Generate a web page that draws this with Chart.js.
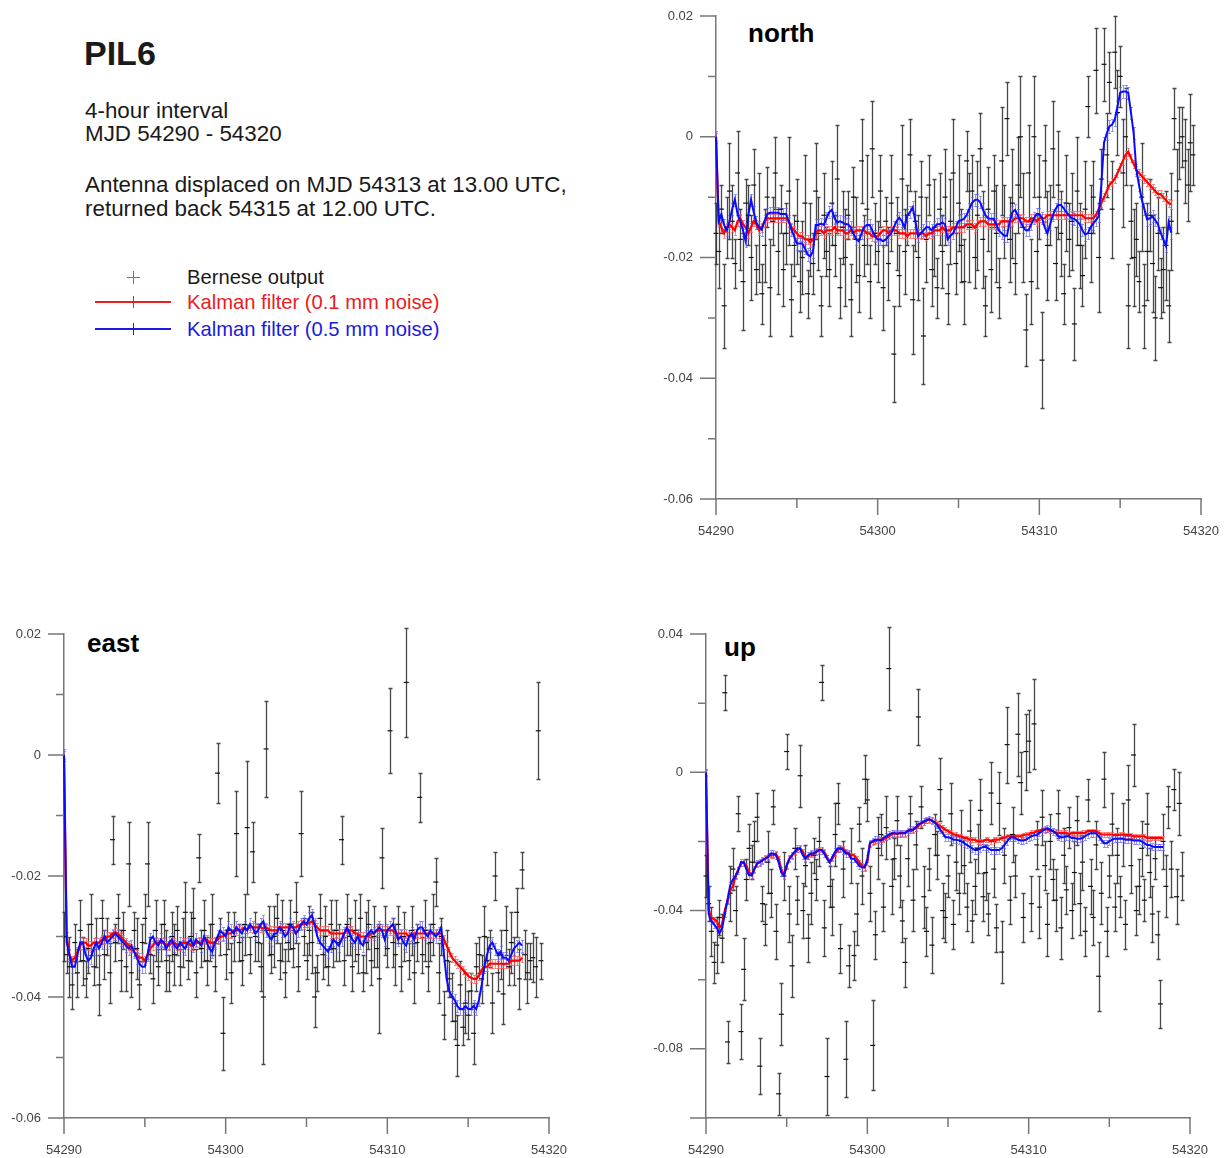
<!DOCTYPE html>
<html>
<head>
<meta charset="utf-8">
<script src="https://cdn.jsdelivr.net/npm/chart.js@4.4.0/dist/chart.umd.min.js"></script>
<style>
  body { margin: 0; background: #fff; font-family: "Liberation Sans", Arial, sans-serif; }
  #page { position: relative; width: 1227px; height: 1158px; overflow: hidden; }
  canvas { position: absolute; }
  .t { position: absolute; white-space: nowrap; color: #1a1a1a; }
  .mk { position: absolute; }
</style>
</head>
<body>
<div id="page">
  <div class="t" style="left:84px;top:36px;font:bold 34px/34px 'Liberation Sans',Arial;">PIL6</div>
  <div class="t" style="left:85px;top:100px;font:22.4px/22px 'Liberation Sans',Arial;">4-hour interval</div>
  <div class="t" style="left:85px;top:123px;font:22.4px/22px 'Liberation Sans',Arial;">MJD 54290 - 54320</div>
  <div class="t" style="left:85px;top:174px;font:22.4px/22px 'Liberation Sans',Arial;">Antenna displaced on MJD 54313 at 13.00 UTC,</div>
  <div class="t" style="left:85px;top:198px;font:22.4px/22px 'Liberation Sans',Arial;">returned back 54315 at 12.00 UTC.</div>

  <!-- legend -->
  <div class="mk" style="left:127px;top:277px;width:13px;height:1px;background:#777;"></div>
  <div class="mk" style="left:133px;top:271px;width:1px;height:13px;background:#777;"></div>
  <div class="t" style="left:187px;top:267px;font:20.2px/20px 'Liberation Sans',Arial;">Bernese output</div>
  <div class="mk" style="left:95px;top:301px;width:76px;height:2px;background:#e82020;"></div>
  <div class="mk" style="left:133px;top:296px;width:1px;height:12px;background:#e82020;"></div>
  <div class="t" style="left:187px;top:292px;font:20.2px/20px 'Liberation Sans',Arial;color:#e82020;">Kalman filter (0.1 mm noise)</div>
  <div class="mk" style="left:95px;top:328px;width:76px;height:2px;background:#1a1ae0;"></div>
  <div class="mk" style="left:133px;top:323px;width:1px;height:12px;background:#1a1ae0;"></div>
  <div class="t" style="left:187px;top:319px;font:20.2px/20px 'Liberation Sans',Arial;color:#1a1ae0;">Kalman filter (0.5 mm noise)</div>

  <div class="t" style="left:748px;top:20px;font:bold 26px/26px 'Liberation Sans',Arial;color:#000;">north</div>
  <div class="t" style="left:87px;top:630px;font:bold 26px/26px 'Liberation Sans',Arial;color:#000;">east</div>
  <div class="t" style="left:724px;top:634px;font:bold 26px/26px 'Liberation Sans',Arial;color:#000;">up</div>

  <canvas id="north" width="587" height="560" style="left:640px;top:0px;"></canvas>
  <canvas id="east" width="600" height="558" style="left:0px;top:600px;"></canvas>
  <canvas id="up" width="587" height="558" style="left:640px;top:600px;"></canvas>
</div>

<script>
// sampling: 4-hour interval starting at MJD 54290 (values below in mm)
const MJD0 = 54290;
const STEP = 1 / 6;

const xTicks = [54290, 54300, 54310, 54320];
const xMinor = [54295, 54305, 54315];
const yTicksNE = [0.02, 0, -0.02, -0.04, -0.06];
const yMinorNE = [0.01, -0.01, -0.03, -0.05];
const yTicksUp = [0.04, 0, -0.04, -0.08];
const yMajorUp = [0.04, 0, -0.04, -0.08, -0.1];
const yMinorUp = [0.02, -0.02, -0.06];

// ---------- north ----------
const northBernese = [
  -16, -19, -12, -28, -15, -9,   -14, -21, -6, -17, -24, -11,
  -13, -20, -8, -22, -15, -26,   -18, -10, -25, -14, -6, -19,
  -12, -22, -16, -9, -27, -18,   -14, -24, -20, -11, -26, -17,
  -21, -9, -16, -28, -13, -19,   -22, -11, -18, -7, -25, -15,
  -20, -13, -27, -10, -17, -23,  -4, -18, -12, -24, -2, -16,
  -19, -9, -25, -14, -21, -11,   -36, -16, -23, -7, -19, -13,
  -3, -27, -14, -20, -10, -33,   -17, -8, -22, -15, -25, -12,
  -19, -10, -26, -14, -6, -21,   -11, -18, -24, -4, -15, -9,
  -20, -13, -2, -17, -28, -12,   -22, -9, -16, -25, -4, -14,
  3, -17, -11, -21, -8, 0,       -15, -32, -6, -24, 0, -19,
  -10, -37, -4, -18, -13, -2,    -21, -8, -16, -26, -11, -17,
  -14, -31, -9, -18, -23, -12,   5, -16, -10, 11, -20, -7,
  12, -3, 9, -12, 14, 4,         10, -6, 0, -28, -14, -20,
  -17, -24, -10, -28, -19, -13,  -21, -30, -16, -25, -22, -18,
  -28, -14, 3, -9, -1, 0,        -4, -8, -1, -3
];
const northErr = [
  5, 6, 4, 7, 5, 8,  6, 4, 7, 5, 8, 4,  5, 7, 6, 4, 9, 5,  6, 5, 8, 4, 6, 7,
  4, 6, 5, 9, 6, 5,  7, 5, 6, 8, 4, 6,  5, 8, 6, 5, 7, 4,  6, 7, 5, 9, 5, 6,
  8, 4, 6, 5, 7, 6,  7, 5, 9, 6, 8, 5,  5, 6, 7, 4, 6, 8,  8, 6, 5, 9, 7, 5,
  6, 9, 5, 7, 6, 8,  7, 5, 6, 8, 5, 6,  6, 8, 5, 7, 9, 5,  8, 6, 7, 5, 9, 6,
  5, 9, 6, 8, 5, 7,  7, 6, 8, 5, 9, 6,  6, 7, 9, 5, 8, 10, 9, 6, 8, 7, 10, 6,
  7, 8, 6, 9, 5, 8,  6, 9, 7, 5, 8, 6,  8, 6, 9, 7, 5, 8,  5, 8, 6, 7, 9, 5,
  6, 7, 5, 8, 6, 7,  5, 9, 8, 7, 6, 8,  6, 5, 9, 7, 8, 6,  8, 7, 6, 5, 7, 9,
  6, 8, 5, 7, 6, 5,  7, 6, 8, 5
];
const northKalman01 = [
  0,
  -14, -15, -16, -15, -14.5, -15,      -15.5, -14, -13.5, -14.5, -15, -16,
  -15, -14, -14.5, -15.5, -15, -14,    -13.5, -13.5, -13.5, -13.5, -13.5, -13.5,
  -13.5, -13.5, -14, -15, -15.5, -16,  -16.5, -16.5, -17, -17, -17.5, -17,
  -16, -15.5, -15.5, -16, -15.5, -15.5, -15.5, -15, -15.5, -15.5, -15.5, -16,
  -16, -15.5, -16, -15.5, -15.5, -15.5, -15.5, -16, -16, -16.5, -16.5, -16.5,
  -16, -15.5, -15.5, -16, -15.5, -15.5, -15.5, -16, -16, -16, -16.5, -16,
  -16, -16, -16, -16, -16, -16.5,      -16, -16, -15.5, -15.5, -15.5, -15,
  -15.5, -15.5, -15.5, -15, -15, -15,  -15, -15, -14.5, -14.5, -14.5, -15,
  -14.5, -14, -14, -14, -14.5, -14.5,  -14.5, -14.5, -14.5, -14, -14, -14,
  -14, -14, -13.5, -13.5, -13.5, -13.5, -14, -14, -13.5, -13.5, -14, -13.5,
  -13.5, -13.5, -13, -13, -13, -13,    -13, -13, -13, -13, -13, -13,
  -13, -13, -13, -13, -13.5, -13.5,    -13.5, -13.5, -13, -12, -11, -10,
  -9, -8, -7.5, -7, -6, -5,            -4, -3, -2.5, -3.5, -4.5, -5.5,
  -6, -6.5, -7, -7.5, -8, -8.5,        -9, -9.5, -9.5, -10, -10.5, -11,
  -11.2
];
const northKalman05 = [
  0,
  -14, -12.8, -14.6, -15.5, -14, -12,   -10.4, -12.8, -14, -15.5, -17.3, -13,
  -10.4, -12.5, -14.2, -15, -15.4, -14, -12.8, -12.6, -12.6, -12.6, -12.6, -12.8,
  -12.8, -12.8, -14, -15.4, -16.5, -17.7, -17.7, -17.7, -18.5, -19.5, -19.8, -19,
  -14.6, -14.6, -14.4, -14.6, -13.5, -12.5, -12.1, -13.5, -14.2, -14, -14.2, -14.5,
  -14.5, -15, -16, -17, -17.3, -16,     -15, -14.6, -14.6, -15.5, -16.5, -17,
  -17, -17.3, -17, -16.5, -16, -15,     -14, -13.4, -14, -15, -13, -12.5,
  -11.7, -14, -16.5, -16, -15.5, -15,   -15, -15.5, -15, -14.5, -14.5, -14.2,
  -14.5, -17, -16.4, -16, -15, -14,     -13.8, -13.6, -13, -12, -11, -10.5,
  -10.4, -10.8, -12, -13, -13.5, -13.6, -13.6, -14.5, -15.5, -16, -16.4, -16.4,
  -14, -12.5, -12.1, -13, -14, -15,     -15.5, -15.5, -14.5, -13.5, -12.8, -12.8,
  -13.5, -15, -16, -14.5, -13, -12,     -11.3, -11.3, -11.8, -12.5, -13, -13.5,
  -13.6, -14, -14.5, -15.5, -16.2, -16, -15, -14.4, -13.8, -13.2, -8, -1,
  0.5, 1.7, 2, 2.8, 5, 7.3,             7.5, 7.5, 7.3, 4, 0.6, -5.5,
  -8, -10.4, -12, -13.7, -13.5, -13.2,  -13.8, -14.5, -15.9, -17, -18.1, -14.2,
  -15.9
];

// ---------- east ----------
const eastBernese = [
  -30, -33, -35, -38, -31, -36,  -29, -34, -37, -32, -28, -35,
  -31, -38, -27, -33, -30, -36,  -14, -31, -27, -34, -29, -35,
  -18, -36, -29, -32, -38, -31,  -27, -18, -33, -37, -29, -35,
  -31, -28, -34, -36, -30, -33,  -29, -35, -31, -26, -34, -30,
  -27, -36, -17, -32, -29, -34,  -31, -28, -35, -3, -30, -46,
  -33, -29, -36, -30, -13, -31,  -34, -28, -12, -33, -16, -30,
  -31, -35, -40, 1, -29, -33,    -30, -27, -34, -29, -36, -31,
  -28, -32, -26, -35, -13, -30,  -34, -29, -31, -40, -36, -27,
  -33, -30, -35, -28, -32, -29,  -31, -14, -34, -28, -30, -35,
  -29, -33, -27, -36, -31, -28,  -34, -30, -32, -37, -17, -29,
  -32, 4, -31, -33, -28, -35,    -30, 12, -34, -29, -36, -31,
  -7, -33, -29, -35, -31, -28,   -21, -36, -30, -43, -34, -37,
  -40, -44, -48, -38, -45, -41,  -43, -39, -46, -35, -33, -37,
  -30, -34, -32, -41, -20, -36,  -33, -39.5, -29, -35, -31, -34,
  -26, -37, -19, -33, -36, -34,  -33.5, -35, 4, -34
];
const eastErr = [
  4, 3, 5, 4, 3, 4,  5, 4, 3, 4, 5, 3,  4, 5, 3, 4, 3, 5,  4, 3, 4, 5, 3, 4,
  7, 4, 3, 5, 4, 3,  4, 7, 3, 4, 5, 3,  3, 4, 5, 3, 4, 5,  4, 3, 4, 5, 3, 4,
  5, 4, 4, 3, 5, 4,  3, 5, 4, 5, 3, 6,  4, 3, 5, 4, 7, 3,  4, 5, 11, 3, 5, 4,
  3, 4, 11, 8, 4, 3, 5, 4, 3, 5, 4, 3,  4, 3, 5, 4, 7, 3,  3, 4, 5, 5, 3, 4,
  4, 5, 3, 4, 3, 5,  3, 4, 4, 5, 3, 4,  5, 3, 4, 3, 5, 4,  4, 5, 3, 9, 5, 4,
  3, 7, 4, 5, 3, 4,  4, 9, 3, 4, 5, 3,  4, 3, 5, 4, 3, 5,  4, 5, 3, 4, 5, 3,
  4, 3, 5, 4, 3, 5,  4, 3, 5, 4, 3, 4,  5, 4, 3, 5, 4, 3,  4, 5, 4, 3, 5, 4,
  4, 5, 3, 4, 5, 3,  4, 5, 8, 3
];
const eastKalman01 = [
  0,
  -30, -33, -34, -33.5, -32.5, -31.5,   -31, -31, -31.5, -31.5, -31, -31,
  -31, -30.5, -30.5, -30, -30, -29.5,   -29.3, -29.5, -30, -30.5, -31, -31.5,
  -32, -32.5, -33, -33.5, -33.5, -34,   -33, -32, -31.5, -31, -31, -31,
  -31, -31.5, -31.5, -31, -31, -31.5,   -31.5, -31, -31, -31, -31.5, -31.5,
  -31, -31, -31, -30.5, -30.5, -31,     -31, -31, -30.5, -30, -30, -29.5,
  -29.5, -29.5, -29, -29, -29, -28.8,   -28.8, -28.8, -28.5, -28.5, -28.5, -28.5,
  -28.5, -28.7, -28.5, -28.8, -29, -29, -29, -28.5, -28.5, -28.5, -28.5, -28.5,
  -28.5, -28.5, -28.2, -28, -28, -27.8, -27.8, -27.5, -28, -28.5, -29, -29,
  -29, -29, -29.5, -29.5, -29.5, -29.5, -29.5, -29.5, -29, -29, -29, -29.5,
  -29.5, -30, -30, -30, -30, -29.5,     -29.5, -29, -29, -29, -29, -29,
  -29, -29, -29.5, -29.5, -29.5, -29.5, -29.5, -30, -30, -29.5, -29.5, -29.5,
  -29.5, -29.5, -29.5, -29.5, -29.5, -29.5, -29.5, -29.5, -30.5, -31.5, -32.5, -33.5,
  -34, -34.5, -35, -35.5, -36, -36.5,   -36.8, -37, -37, -36.5, -35.5, -35,
  -35, -34.5, -34.5, -34.5, -34.5, -34.5, -34.5, -34.5, -34.5, -34, -34, -34,
  -34, -33.5
];
const eastKalman05 = [
  0,
  -31, -33, -35, -35, -33, -31,         -31, -33, -34, -33.5, -32, -31,
  -32, -31, -30, -31, -30.5, -30,       -29.5, -30, -30.5, -31, -31.5, -32,
  -31.5, -32.5, -33.5, -34.5, -35, -35, -33, -30.5, -30, -31, -31.5, -30.5,
  -31, -32, -31, -30.5, -31.5, -32,     -31, -31.5, -32, -31, -30.5, -31.5,
  -30.5, -31, -31.5, -30, -31, -32,     -32.5, -31, -30, -29, -29.5, -30,
  -28.5, -29, -29.5, -28.5, -29, -29.5, -28.5, -29, -28, -28.5, -29.5, -29,
  -28, -27.5, -29, -30, -30.5, -29.5,   -29.5, -28.5, -29, -30, -29.5, -28,
  -28.5, -29.5, -29, -28, -27.5, -28,   -27, -26.5, -28, -30, -31, -31.5,
  -32, -32.5, -31.5, -30.5, -31, -31.5, -30.5, -29.5, -28.5, -29.5, -30.5, -31,
  -30, -31, -31.5, -30, -29.5, -29,     -29.5, -29, -28.5, -29, -30.5, -29,
  -28.5, -28, -29, -30.5, -30, -31,     -31.5, -30, -29.5, -30.5, -29, -28.5,
  -28.5, -29.5, -30, -29, -29.5, -30,   -29.5, -28.5, -33, -37, -39, -40,
  -40.5, -41.5, -42, -42, -41.5, -42,   -42, -41.5, -42, -40.5, -38, -35,
  -33, -31.5, -31, -32, -33, -32.5,     -33.5, -33.5, -34, -33, -32, -31.5,
  -31, -31.5
];

// ---------- up ----------
const upBernese = [
  -30, -38, -46, -55, -50, -42,  -48, 23, -78, -35, -28, -40,
  -12, -75, -57, -31, -22, -26,  -20, -13, -85, -38, -44, -26,
  -35, -10, -46, -93, -70, -30,  6, -41, -56, -22, -37, -1,
  -40, -27, -48, -35, -24, -31,  -20, 26, -45, -88, -33, -39,
  -18, -9, -51, -28, -83, -56,   -24, -53, -41, -15, -30, -2,
  -8, -35, -79, -47, -22, -18,   -39, -16, 30, -33, -25, -14,
  -30, -43, -55, -25, -12, -37,  -21, 16, -10, -36, -46, -28,
  -50, -18, -24, -5, -40, -42,   -30, -12, -44, -26, -35, -20,
  -27, -39, -17, -43, -33, -22,  -11, -36, -29, -41, -6, -28,
  -45, -9, -52, -24, 8, -37,     -18, -30, 11, -3, -42, 6,
  9, -38, 14, -21, -39, -13,     -27, -44, -20, -31, -37, -12,
  -45, -24, -34, -16, -40, -29,  -14, -38, -26, -46, -8, -33,
  -42, -21, -59, -35, -2, -46,   -30, -15, -39, -24, -36, -18,
  -44, -8, -27, 5, -40, -33,     -22, -37, -15, -29, -41, -25,
  -47, -67, -20, -33, -10, -28,  -5, -36, -9, -30
];
const upErr = [
  6, 5, 7, 6, 8, 5,  7, 5, 6, 8, 6, 7,  5, 8, 9, 6, 7, 5,  6, 7, 8, 5, 6, 9,
  7, 5, 8, 6, 9, 7,  5, 8, 9, 6, 7, 9,  8, 6, 7, 9, 5, 6,  7, 5, 8, 11, 6, 8,
  9, 6, 7, 8, 11, 6, 8, 7, 9, 5, 8, 7,  6, 8, 13, 7, 9, 6, 7, 9, 12, 8, 6, 7,
  9, 6, 7, 8, 5, 9,  7, 8, 6, 9, 7, 6,  8, 6, 7, 9, 8, 7,  6, 9, 7, 8, 6, 9,
  8, 7, 9, 6, 8, 7,  9, 7, 8, 6, 9, 8,  7, 9, 9, 8, 11, 7, 8, 6, 12, 9, 7, 11,
  9, 8, 13, 7, 9, 8, 7, 9, 8, 6, 9, 7,  9, 8, 7, 6, 8, 9,  7, 9, 8, 7, 6, 8,
  8, 7, 10, 9, 8, 7, 6, 9, 7, 8, 6, 9,  7, 10, 8, 9, 7, 8, 8, 6, 9, 7, 8, 6,
  7, 7, 8, 9, 6, 8,  6, 8, 9, 7
];
const upKalman01 = [
  0,
  -40, -42, -42.5, -43, -45, -44,       -40, -37, -34, -33, -30, -28,
  -26.5, -26, -27, -29, -29.8, -28,     -26.4, -26, -25.5, -25, -24.5, -24,
  -24, -23.5, -25, -28, -29.8, -27,     -25, -24, -23, -22.5, -22, -23,
  -25, -24.5, -23.5, -23.5, -23, -22.5, -22.5, -23, -24.5, -26, -25, -23.5,
  -22.5, -22, -22, -23, -23.5, -24,     -24, -25, -26, -27, -27.5, -26,
  -20.5, -20, -20, -19.5, -19.5, -19.5, -19, -18.5, -18, -17.6, -17.8, -17.6,
  -17.6, -17.6, -17, -16.8, -16.6, -16.2, -15.5, -14.7, -14.5, -14, -13.6, -14,
  -14.5, -15, -15.5, -16, -16.6, -17,   -17.5, -18, -18, -18.5, -18.5, -19,
  -19, -19.5, -19.5, -19.5, -20, -20,   -20, -19.5, -19.5, -20, -19.5, -19.5,
  -19.5, -19, -19, -18.5, -18.5, -18.5, -18.5, -18.5, -18.5, -18.2, -18, -18,
  -17.5, -17.5, -17, -17, -16.5, -16.5, -16.5, -17, -17, -17.5, -17.5, -17.5,
  -17.5, -17.5, -18, -17.6, -17.6, -17.6, -17.6, -17.5, -17.5, -17, -17, -17,
  -17, -17.5, -18, -18, -18, -18,       -18, -18.2, -18.2, -18, -18, -18.2,
  -18.2, -18.2, -18.5, -18.5, -18.5, -18.5, -18.5, -19, -19, -19, -19, -19,
  -19, -19.2
];
const upKalman05 = [
  0,
  -41, -43, -44, -45, -46.6, -45,       -41, -37, -32.7, -31, -30, -28.5,
  -26, -26, -28, -29.8, -29.8, -28,     -26.4, -26, -25.5, -25, -24.5, -23.5,
  -23.5, -24, -26, -29, -29.8, -27,     -25, -24, -23, -22, -22, -24,
  -25, -24, -23.5, -23.5, -23, -22.5,   -22.5, -23.5, -25, -26, -24.5, -23,
  -22, -22, -22.5, -23.5, -23.5, -25,   -25, -26, -27, -27.5, -27.5, -25,
  -20.5, -20, -19.5, -19.5, -19.8, -19, -18.5, -18, -17.6, -17.6, -17.8, -17.6,
  -17.6, -17.6, -17, -16.6, -16.6, -16, -15, -14.7, -14.2, -13.8, -13.6, -14,
  -14.5, -15.2, -16.5, -17.5, -18.8, -18.8, -19, -19.5, -19.5, -19.7, -20, -20.5,
  -21, -21.5, -22, -22.5, -22.5, -22,   -21.6, -21.6, -22, -22.5, -22.5, -22.5,
  -22.5, -22, -21, -20, -19, -18.8,     -19, -19.5, -19.7, -19.7, -19.5, -19,
  -18.5, -18.2, -18.2, -17.5, -17, -16.5, -16.3, -16.5, -17, -17.5, -18.5, -18.8,
  -18.8, -18.5, -18.5, -19, -19, -19.2, -19.2, -19, -18.5, -18, -17.6, -17.6,
  -17.6, -18.5, -19.5, -20.5, -20.5, -20, -19.5, -19.2, -19.2, -19.2, -19.2, -19.5,
  -19.5, -19.5, -19.7, -19.7, -19.7, -20, -20.5, -21, -21, -21.5, -21.6, -21.6,
  -21.6, -21.6
];

// whisker half-lengths for the filter curves (mm)
const KALMAN01_ERR = 0.7;
const KALMAN05_ERR = 1.0;

// mm values -> {x: MJD, y: metres, e: metres}
function toPoints(vals, errs) {
  return vals.map((v, i) => ({
    x: MJD0 + i * STEP,
    y: v * 0.001,
    e: (Array.isArray(errs) ? errs[i] : errs) * 0.001
  }));
}

const FONT = "'Liberation Sans', Arial, sans-serif";

// vertical error bars with small caps, drawn behind the markers/lines
const errorBars = {
  id: 'errorBars',
  beforeDatasetsDraw(chart) {
    const { ctx, scales: { x, y } } = chart;
    ctx.save();
    chart.data.datasets.slice().reverse().forEach(ds => {
      if (!ds.errColor) return;
      ctx.strokeStyle = ds.errColor;
      ctx.lineWidth = ds.errWidth;
      ctx.beginPath();
      ds.data.forEach(p => {
        const px = Math.round(x.getPixelForValue(p.x)) + 0.5;
        const y1 = Math.round(y.getPixelForValue(p.y + p.e)) + 0.5;
        const y2 = Math.round(y.getPixelForValue(p.y - p.e)) + 0.5;
        ctx.moveTo(px, y1); ctx.lineTo(px, y2);
        ctx.moveTo(px - ds.cap, y1); ctx.lineTo(px + ds.cap, y1);
        ctx.moveTo(px - ds.cap, y2); ctx.lineTo(px + ds.cap, y2);
      });
      ctx.stroke();
    });
    ctx.restore();
  }
};

// outward major/minor tick marks on both axes
function tickMarks(yMajor, yMinor) {
  return {
    id: 'tickMarks',
    afterDraw(chart) {
      const { ctx, chartArea: a, scales: { x, y } } = chart;
      ctx.save();
      ctx.strokeStyle = '#777';
      ctx.lineWidth = 1.5;
      ctx.beginPath();
      yMajor.forEach(v => { const py = y.getPixelForValue(v); ctx.moveTo(a.left - 16, py); ctx.lineTo(a.left, py); });
      yMinor.forEach(v => { const py = y.getPixelForValue(v); ctx.moveTo(a.left - 8, py); ctx.lineTo(a.left, py); });
      xTicks.forEach(v => { const px = x.getPixelForValue(v); ctx.moveTo(px, a.bottom); ctx.lineTo(px, a.bottom + 16); });
      xMinor.forEach(v => { const px = x.getPixelForValue(v); ctx.moveTo(px, a.bottom); ctx.lineTo(px, a.bottom + 9); });
      ctx.stroke();
      ctx.restore();
    }
  };
}

// keep the plot box exactly where the layout padding puts it
function noLabelPadding(s) {
  s.paddingTop = 0;
  s.paddingBottom = 0;
  s.paddingLeft = 0;
  s.paddingRight = 0;
}

function makePanel(id, p) {
  const canvas = document.getElementById(id);
  const W = canvas.width, H = canvas.height;
  return new Chart(canvas, {
    type: 'line',
    data: {
      datasets: [
        {
          label: 'Kalman filter (0.5 mm noise)',
          data: toPoints(p.k05, KALMAN05_ERR),
          borderColor: 'rgb(10,10,255)',
          borderWidth: 2,
          pointRadius: 0,
          errColor: 'rgba(90,90,255,0.6)',
          errWidth: 1,
          cap: 1.5,
          clip: false
        },
        {
          label: 'Kalman filter (0.1 mm noise)',
          data: toPoints(p.k01, KALMAN01_ERR),
          borderColor: 'rgb(255,0,0)',
          borderWidth: 2.2,
          pointRadius: 0,
          errColor: 'rgba(255,90,90,0.7)',
          errWidth: 1,
          cap: 1.5,
          clip: false
        },
        {
          label: 'Bernese output',
          data: toPoints(p.obs, p.err),
          showLine: false,
          pointStyle: 'line',
          pointRadius: 2.5,
          pointBorderColor: '#111',
          pointBorderWidth: 1.2,
          errColor: 'rgba(40,40,40,0.85)',
          errWidth: 1.3,
          cap: 2,
          clip: false
        }
      ]
    },
    options: {
      responsive: false,
      animation: false,
      events: [],
      layout: { autoPadding: false, padding: { left: 0, top: p.top, right: W - p.right, bottom: 0 } },
      plugins: { legend: { display: false }, tooltip: { enabled: false } },
      scales: {
        x: {
          type: 'linear',
          min: 54290,
          max: 54320,
          afterBuildTicks: s => { s.ticks = xTicks.map(v => ({ value: v })); },
          afterFit: s => { s.height = H - p.bottom; noLabelPadding(s); },
          grid: { display: false, drawTicks: false },
          border: { display: true, color: '#777', width: 1.5 },
          ticks: {
            padding: 25, autoSkip: false, maxRotation: 0,
            color: '#444', font: { family: FONT, size: 13 },
            callback: v => String(v)
          }
        },
        y: {
          type: 'linear',
          min: p.yMin,
          max: p.yMax,
          afterBuildTicks: s => { s.ticks = p.yLabels.map(v => ({ value: v })); },
          afterFit: s => { s.width = p.left; noLabelPadding(s); },
          grid: { display: false, drawTicks: false },
          border: { display: true, color: '#777', width: 1.5 },
          ticks: {
            padding: 23, autoSkip: false,
            color: '#444', font: { family: FONT, size: 13 },
            callback: v => String(v)
          }
        }
      }
    },
    plugins: [errorBars, tickMarks(p.yMajor, p.yMinor)]
  });
}

makePanel('north', {
  obs: northBernese, err: northErr, k01: northKalman01, k05: northKalman05,
  yMin: -0.06, yMax: 0.02, yLabels: yTicksNE, yMajor: yTicksNE, yMinor: yMinorNE,
  left: 76, right: 561, top: 16, bottom: 499
});
makePanel('east', {
  obs: eastBernese, err: eastErr, k01: eastKalman01, k05: eastKalman05,
  yMin: -0.06, yMax: 0.02, yLabels: yTicksNE, yMajor: yTicksNE, yMinor: yMinorNE,
  left: 64, right: 549, top: 34, bottom: 518
});
makePanel('up', {
  obs: upBernese, err: upErr, k01: upKalman01, k05: upKalman05,
  yMin: -0.1, yMax: 0.04, yLabels: yTicksUp, yMajor: yMajorUp, yMinor: yMinorUp,
  left: 66, right: 550, top: 34, bottom: 518
});
</script>
</body>
</html>
